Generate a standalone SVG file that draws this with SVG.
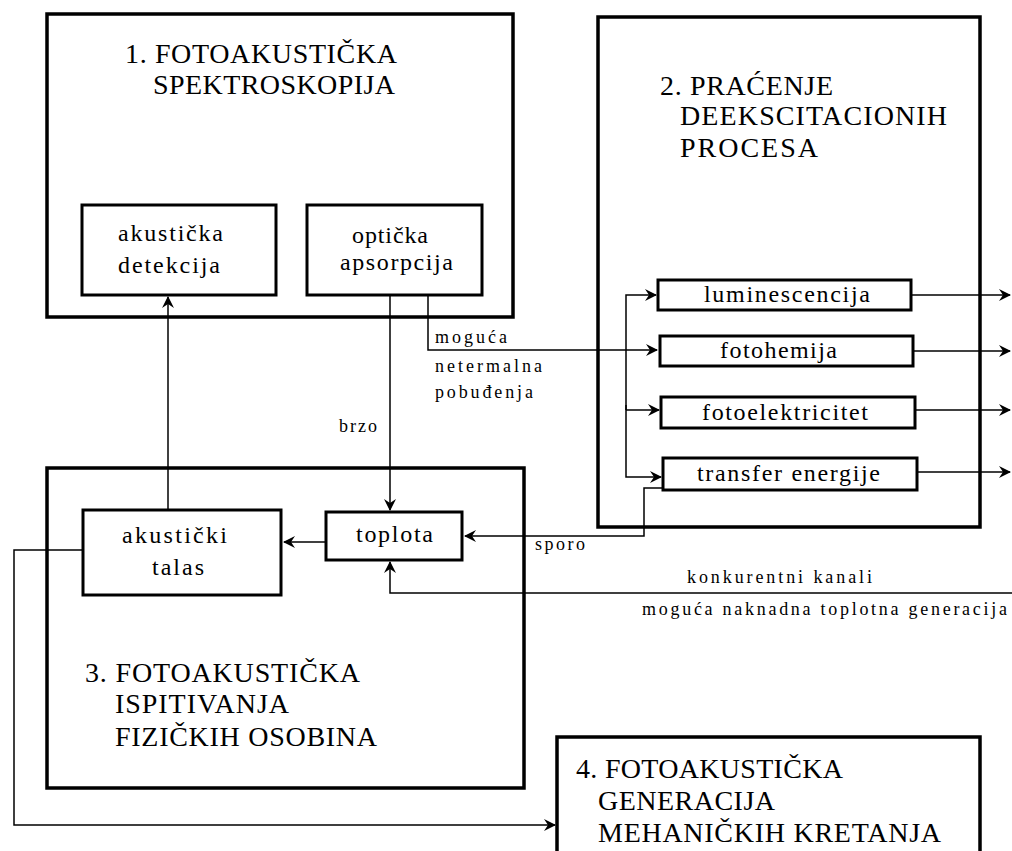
<svg xmlns="http://www.w3.org/2000/svg" width="1012" height="851" viewBox="0 0 1012 851">
<style>
.big{fill:none;stroke:#000;stroke-width:3.5}
.sm{fill:none;stroke:#000;stroke-width:3}
.ln{fill:none;stroke:#000;stroke-width:1.5}
.h{font-family:"Liberation Serif",serif;font-size:28px;fill:#000}
.b{font-family:"Liberation Serif",serif;font-size:24px;fill:#000}
.l{font-family:"Liberation Serif",serif;font-size:18px;fill:#000}
</style>
<defs>
<marker id="ar" markerUnits="userSpaceOnUse" markerWidth="14" markerHeight="14" refX="11" refY="6" orient="auto">
<path d="M0,0 L12,6 L0,12 L4,6 z" fill="#000"/>
</marker>
</defs>
<rect width="1012" height="851" fill="#fff"/>
<g id="connectors">
<path class="ln" d="M168,510 V297" marker-end="url(#ar)"/>
<path class="ln" d="M390,295 V510" marker-end="url(#ar)"/>
<path class="ln" d="M428,295 V350 H657" marker-end="url(#ar)"/>
<path class="ln" d="M326,542 H284" marker-end="url(#ar)"/>
<path class="ln" d="M663,488 H644 V536 H465" marker-end="url(#ar)"/>
<path class="ln" d="M1012,593 H390 V562" marker-end="url(#ar)"/>
<path class="ln" d="M83,550 H14 V825 H555" marker-end="url(#ar)"/>
<path class="ln" d="M626,410 V295 H656" marker-end="url(#ar)"/>
<path class="ln" d="M626,405 V477 H661" marker-end="url(#ar)"/>
<path class="ln" d="M626,410 H659" marker-end="url(#ar)"/>
<path class="ln" d="M911,295 H1010" marker-end="url(#ar)"/>
<path class="ln" d="M913,351 H1010" marker-end="url(#ar)"/>
<path class="ln" d="M915,410 H1010" marker-end="url(#ar)"/>
<path class="ln" d="M917,472 H1010" marker-end="url(#ar)"/>
<text class="l" x="339" y="432" textLength="38">brzo</text>
<text class="l" x="435" y="343" textLength="72">moguća</text>
<text class="l" x="435" y="372" textLength="107">netermalna</text>
<text class="l" x="435" y="398" textLength="98">pobuđenja</text>
<text class="l" x="535" y="550" textLength="50">sporo</text>
<text class="l" x="687" y="583" textLength="185">konkurentni kanali</text>
<text class="l" x="642" y="615" textLength="365">moguća naknadna toplotna generacija</text>
</g>
<g id="box1">
<rect class="big" x="47" y="14" width="466" height="303"/>
<text class="h" x="125" y="63" textLength="272">1. FOTOAKUSTIČKA</text>
<text class="h" x="153" y="94" textLength="242">SPEKTROSKOPIJA</text>
</g>
<g id="akusticka-detekcija">
<rect class="sm" x="82" y="205" width="194" height="90"/>
<text class="b" x="118" y="241" textLength="105">akustička</text>
<text class="b" x="118" y="273" textLength="102">detekcija</text>
</g>
<g id="opticka-apsorpcija">
<rect class="sm" x="307" y="205" width="175" height="90"/>
<text class="b" x="352" y="243" textLength="76">optička</text>
<text class="b" x="340" y="270" textLength="113">apsorpcija</text>
</g>
<g id="box2">
<rect class="big" x="598" y="17" width="382" height="510"/>
<text class="h" x="660" y="95" textLength="173">2. PRAĆENJE</text>
<text class="h" x="680" y="125" textLength="267">DEEKSCITACIONIH</text>
<text class="h" x="680" y="157" textLength="138">PROCESA</text>
</g>
<g id="luminescencija">
<rect class="sm" x="658" y="280" width="253" height="30"/>
<text class="b" x="704" y="302" textLength="166">luminescencija</text>
</g>
<g id="fotohemija">
<rect class="sm" x="660" y="336" width="253" height="30"/>
<text class="b" x="720" y="358" textLength="117">fotohemija</text>
</g>
<g id="fotoelektricitet">
<rect class="sm" x="661" y="397" width="254" height="31"/>
<text class="b" x="702" y="420" textLength="166">fotoelektricitet</text>
</g>
<g id="transfer-energije">
<rect class="sm" x="663" y="458" width="254" height="32"/>
<text class="b" x="697" y="481" textLength="183">transfer energije</text>
</g>
<g id="box3">
<rect class="big" x="47" y="468" width="477" height="320"/>
<text class="h" x="85" y="682" textLength="275">3. FOTOAKUSTIČKA</text>
<text class="h" x="115" y="713" textLength="174">ISPITIVANJA</text>
<text class="h" x="115" y="746" textLength="262">FIZIČKIH OSOBINA</text>
</g>
<g id="akusticki-talas">
<rect class="sm" x="83" y="510" width="198" height="85"/>
<text class="b" x="122" y="543" textLength="105">akustički</text>
<text class="b" x="152" y="575" textLength="52">talas</text>
</g>
<g id="toplota">
<rect class="sm" x="326" y="512" width="136" height="48"/>
<text class="b" x="356" y="542" textLength="77">toplota</text>
</g>
<g id="box4">
<rect class="big" x="557" y="737" width="423" height="130"/>
<text class="h" x="576" y="778" textLength="267">4. FOTOAKUSTIČKA</text>
<text class="h" x="598" y="810" textLength="177">GENERACIJA</text>
<text class="h" x="598" y="842" textLength="343">MEHANIČKIH KRETANJA</text>
</g>
</svg>
